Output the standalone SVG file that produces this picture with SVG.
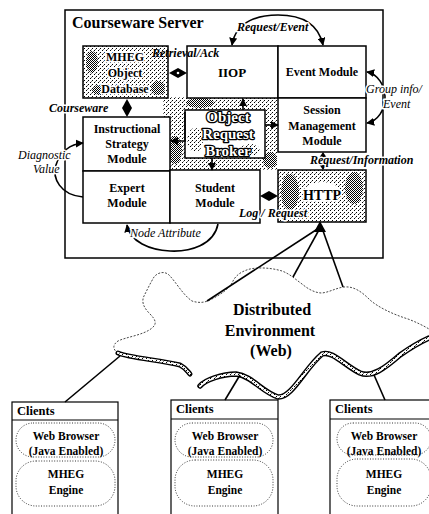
<svg xmlns="http://www.w3.org/2000/svg" width="429" height="514" viewBox="0 0 429 514">
  <style>
    .box { fill: #fff; stroke: #000; stroke-width: 1.5; }
    .thin { stroke-width: 1.2; }
    .tex { fill: url(#dith); stroke: #000; stroke-width: 1.5; }
    .t { font-family: "Liberation Serif", "DejaVu Serif", serif; font-weight: bold; font-size: 12px; text-anchor: middle; fill: #000; }
    .big { font-size: 16px; }
    .halo { stroke: #fff; stroke-width: 3; paint-order: stroke; stroke-linejoin: round; }
    .lab { font-family: "Liberation Serif", "DejaVu Serif", serif; font-style: italic; font-size: 12px; fill: #000; }
    .b { font-weight: bold; }
    .orbt { font-family: "Liberation Serif", "DejaVu Serif", serif; font-weight: bold; font-size: 15px; text-anchor: middle; fill: #fff; stroke: #000; stroke-width: 2.6; paint-order: stroke; stroke-linejoin: round; }
    .ln { fill: none; stroke: #000; stroke-width: 1.6; }
    .dbl { fill: #000; }
    .oval { fill: #fff; stroke: #000; stroke-width: 0.8; stroke-dasharray: 1 1.6; }
    .cl { font-family: "Liberation Serif", "DejaVu Serif", serif; font-weight: bold; font-size: 11.5px; text-anchor: middle; fill: #000; }
    .hd { font-family: "Liberation Serif", "DejaVu Serif", serif; font-weight: bold; font-size: 12.5px; fill: #000; }
  </style>
  <defs>
    <pattern id="dith" width="4" height="4" patternUnits="userSpaceOnUse">
      <rect width="4" height="4" fill="#fff"/>
      <rect x="0" y="0" width="1" height="1" fill="#000"/>
      <rect x="2" y="2" width="1" height="1" fill="#000"/>
      <rect x="3" y="1" width="1" height="1" fill="#777"/>
    </pattern>
    <pattern id="dense" width="2" height="2" patternUnits="userSpaceOnUse">
      <rect width="2" height="2" fill="#fff"/>
      <rect width="1" height="1" fill="#000"/>
      <rect x="1" y="1" width="1" height="1" fill="#000"/>
    </pattern>
    <marker id="ah" viewBox="0 0 10 10" refX="9" refY="5" markerWidth="8" markerHeight="8" markerUnits="userSpaceOnUse" orient="auto-start-reverse">
      <path d="M0,0 L10,5 L0,10 Z" fill="#000"/>
    </marker>
  </defs>

  <!-- server frame -->
  <g id="server">
    <rect x="65" y="10" width="318" height="248" class="box"/>
    <text x="72" y="28" font-family="Liberation Serif, serif" font-weight="bold" font-size="16">Courseware Server</text>
  </g>

  <!-- broker backdrop and box -->
  <g id="orb">
    <rect x="163" y="97" width="115" height="73" fill="url(#dith)"/>
    <ellipse cx="175" cy="150" rx="7" ry="14" fill="url(#dense)"/>
    <ellipse cx="200" cy="103" rx="14" ry="5" fill="url(#dense)"/>
    <ellipse cx="270" cy="160" rx="7" ry="8" fill="url(#dense)"/>
    <rect x="185" y="110" width="80" height="48" fill="#fff" stroke="#000" stroke-width="1.5"/>
    <ellipse cx="195" cy="140" rx="8" ry="12" fill="url(#dith)"/>
    <ellipse cx="250" cy="150" rx="10" ry="6" fill="url(#dith)"/>
    <text x="228" y="122" class="orbt">Object</text>
    <text x="228" y="139" class="orbt">Request</text>
    <text x="228" y="156" class="orbt">Broker</text>
  </g>

  <g id="db">
    <rect x="83" y="46" width="85" height="52" class="tex"/>
    <ellipse cx="92" cy="62" rx="6" ry="11" fill="url(#dense)"/>
    <ellipse cx="158" cy="88" rx="7" ry="7" fill="url(#dense)"/>
    <ellipse cx="100" cy="90" rx="8" ry="5" fill="url(#dense)"/>
    <text x="125" y="61" class="t halo">MHEG</text>
    <text x="125" y="77" class="t halo">Object</text>
    <text x="125" y="93" class="t halo">Database</text>
  </g>

  <g id="iiop">
    <rect x="187" y="46" width="91" height="52" class="box"/>
    <text x="232" y="77" class="t" style="font-size:13px">IIOP</text>
  </g>

  <g id="event">
    <rect x="278" y="46" width="88" height="52" class="box"/>
    <text x="322" y="76" class="t">Event Module</text>
  </g>

  <g id="session">
    <rect x="278" y="98" width="88" height="54" class="box"/>
    <text x="322" y="114" class="t">Session</text>
    <text x="322" y="129.5" class="t">Management</text>
    <text x="322" y="145" class="t">Module</text>
  </g>

  <g id="instructional">
    <rect x="83" y="117" width="87" height="54" class="box"/>
    <text x="127" y="133" class="t">Instructional</text>
    <text x="127" y="148" class="t">Strategy</text>
    <text x="127" y="163" class="t">Module</text>
  </g>

  <g id="expert">
    <rect x="83" y="171" width="87" height="52" class="box"/>
    <text x="127" y="192" class="t">Expert</text>
    <text x="127" y="207" class="t">Module</text>
  </g>

  <g id="student">
    <rect x="170" y="170" width="90" height="53" class="box"/>
    <text x="215" y="192" class="t">Student</text>
    <text x="215" y="207" class="t">Module</text>
  </g>

  <g id="http">
    <rect x="278" y="170" width="88" height="52" class="tex"/>
    <ellipse cx="290" cy="192" rx="9" ry="18" fill="url(#dense)"/>
    <ellipse cx="354" cy="188" rx="9" ry="16" fill="url(#dense)"/>
    <ellipse cx="322" cy="192" rx="18" ry="10" fill="#fff"/>
    <text x="322" y="200" class="t halo" style="font-size:14px">HTTP</text>
  </g>

  <!-- network cloud -->
  <g id="cloud">
    <path d="M118,353 C113,350 112,345 118,341 C126,337 144,335 152,328 C157,324 156,320 150,314 C144,308 141,302 144,296 C147,290 151,282 154,277 C158,272 165,271 169,275 C176,282 183,295 192,301 C198,303 204,303 210,300 C222,294 230,288 233,281 C236,275 242,271 250,269 C260,267 272,268 282,271 C290,274 295,279 302,284 C308,289 315,293 322,293 C330,292 336,288 344,287 C354,286 362,292 370,300 C378,307 392,314 408,319 C416,322 424,326 429,329 L429,338 C420,342 410,348 400,355 C385,368 372,378 360,373 C345,366 332,350 322,354 C305,368 292,398 278,397 C262,392 252,376 236,374 C222,374 205,380 200,386 L194,378 L190,374 C188,372 186,368 180,365 C160,360 130,358 118,353 Z" fill="#fff"/>
    <path d="M118,353 C113,350 112,345 118,341 C126,337 144,335 152,328 C157,324 156,320 150,314 C144,308 141,302 144,296 C147,290 151,282 154,277 C158,272 165,271 169,275 C176,282 183,295 192,301 C198,303 204,303 210,300 C222,294 230,288 233,281 C236,275 242,271 250,269 C260,267 272,268 282,271 C290,274 295,279 302,284 C308,289 315,293 322,293 C330,292 336,288 344,287 C354,286 362,292 370,300 C378,307 392,314 408,319 C416,322 424,326 429,329" fill="none" stroke="#333" stroke-width="0.9" stroke-dasharray="2 1.5"/>
    <path d="M200,386 C205,380 222,374 236,374 C252,376 262,392 278,397 C292,398 305,368 322,354 C332,350 345,366 360,373 C372,378 385,368 400,355 C410,348 420,342 429,338" fill="none" stroke="#000" stroke-width="5.5" stroke-linecap="round"/>
    <path d="M200,386 C205,380 222,374 236,374 C252,376 262,392 278,397 C292,398 305,368 322,354 C332,350 345,366 360,373 C372,378 385,368 400,355 C410,348 420,342 429,338" fill="none" stroke="url(#dith)" stroke-width="2.6" stroke-linecap="round"/>
    <path d="M118,353 C130,358 160,360 180,365 C186,368 188,372 190,374" fill="none" stroke="#000" stroke-width="5" stroke-linecap="round"/>
    <path d="M118,353 C130,358 160,360 180,365 C186,368 188,372 190,374" fill="none" stroke="url(#dith)" stroke-width="2.2" stroke-linecap="round"/>
    <text x="272" y="315" class="t big">Distributed</text>
    <text x="270" y="336" class="t big">Environment</text>
    <text x="271" y="356" class="t big">(Web)</text>
  </g>

  <g id="clients-left">
    <rect x="12" y="402" width="106" height="120" class="box thin"/>
    <line x1="12" y1="420" x2="118" y2="420" stroke="#000" stroke-width="1.2"/>
    <text x="17" y="415" class="hd">Clients</text>
    <rect x="16" y="423" width="99" height="34" rx="17" class="oval"/>
    <rect x="16" y="461" width="99" height="45" rx="20" class="oval"/>
    <text x="66" y="440" class="cl">Web Browser</text>
    <text x="66" y="455" class="cl">(Java Enabled)</text>
    <text x="66" y="478" class="cl">MHEG</text>
    <text x="66" y="494" class="cl">Engine</text>
  </g>

  <g id="clients-middle">
    <rect x="171" y="400" width="107" height="122" class="box thin"/>
    <line x1="171" y1="419" x2="278" y2="419" stroke="#000" stroke-width="1.2"/>
    <text x="176" y="413" class="hd">Clients</text>
    <rect x="175" y="423" width="98" height="34" rx="17" class="oval"/>
    <rect x="175" y="460" width="98" height="46" rx="20" class="oval"/>
    <text x="225" y="440" class="cl">Web Browser</text>
    <text x="225" y="455" class="cl">(Java Enabled)</text>
    <text x="225" y="478" class="cl">MHEG</text>
    <text x="225" y="494" class="cl">Engine</text>
  </g>

  <g id="clients-right">
    <rect x="330" y="400" width="104" height="122" class="box thin"/>
    <line x1="330" y1="419" x2="434" y2="419" stroke="#000" stroke-width="1.2"/>
    <text x="335" y="413" class="hd">Clients</text>
    <rect x="337" y="423" width="94" height="32" rx="16" class="oval"/>
    <rect x="337" y="459" width="94" height="47" rx="20" class="oval"/>
    <text x="384" y="440" class="cl">Web Browser</text>
    <text x="384" y="455" class="cl">(Java Enabled)</text>
    <text x="384" y="478" class="cl">MHEG</text>
    <text x="384" y="494" class="cl">Engine</text>
  </g>

  <g id="connectors">
    <!-- two-way links between adjacent modules -->
    <polygon class="dbl" points="169,73 178,68 187,73 178,78"/>
    <circle cx="178" cy="73" r="1.3" fill="#fff"/>
    <polygon class="dbl" points="127,99 132,108 127,117 122,108"/>
    <polygon class="dbl" points="260,196 269,191 278,196 269,201"/>
    <line x1="323" y1="154" x2="323" y2="168" stroke="#000" stroke-width="1.5"/>
    <polygon class="dbl" points="323,152 327,158 319,158"/>
    <polygon class="dbl" points="323,170 327,164 319,164"/>

    <!-- broker links -->
    <line x1="243" y1="110" x2="243" y2="99" class="ln" marker-end="url(#ah)"/>
    <polyline points="185,112 185,141 171,141" class="ln" marker-end="url(#ah)"/>
    <line x1="265" y1="125" x2="278" y2="125" class="ln" marker-end="url(#ah)"/>
    <line x1="212" y1="158" x2="212" y2="170" class="ln" marker-end="url(#ah)"/>

    <!-- curved message flows -->
    <path d="M232,45 C236,20 260,15 278,15 C300,15 318,22 323,45" class="ln" marker-start="url(#ah)" marker-end="url(#ah)"/>
    <path d="M367,72 C378,74 385,86 385,97 C385,110 378,121 367,123" class="ln" marker-start="url(#ah)" marker-end="url(#ah)"/>
    <path d="M83,197 C60,195 52,178 56,165 C60,152 70,144 83,143" class="ln" marker-end="url(#ah)"/>
    <path d="M218,224 C214,245 190,252 170,251 C150,250 130,242 127,225" class="ln" marker-end="url(#ah)"/>

    <!-- HTTP to the web -->
    <polygon class="dbl" points="320,221 314,232 326,232"/>
    <line x1="319" y1="228" x2="207" y2="301" class="ln"/>
    <line x1="320" y1="228" x2="293" y2="277" class="ln"/>
    <line x1="322" y1="228" x2="343" y2="287" class="ln"/>

    <!-- web to clients -->
    <line x1="120" y1="356" x2="65" y2="402" class="ln"/>
    <line x1="240" y1="375" x2="225" y2="400" class="ln"/>
    <line x1="374" y1="375" x2="385" y2="400" class="ln"/>

    <!-- flow labels -->
    <text x="237" y="31" class="lab b halo">Request/Event</text>
    <text x="152" y="57" class="lab b">Retrieval/Ack</text>
    <text x="366" y="93" class="lab halo">Group info/</text>
    <text x="383" y="108" class="lab halo">Event</text>
    <text x="49" y="112" class="lab b halo">Courseware</text>
    <text x="18" y="159" class="lab halo">Diagnostic</text>
    <text x="33" y="173" class="lab halo">Value</text>
    <text x="310" y="164" class="lab b halo">Request/Information</text>
    <text x="239" y="217" class="lab b halo">Log / Request</text>
    <text x="130" y="237" class="lab halo">Node Attribute</text>
  </g>
</svg>
